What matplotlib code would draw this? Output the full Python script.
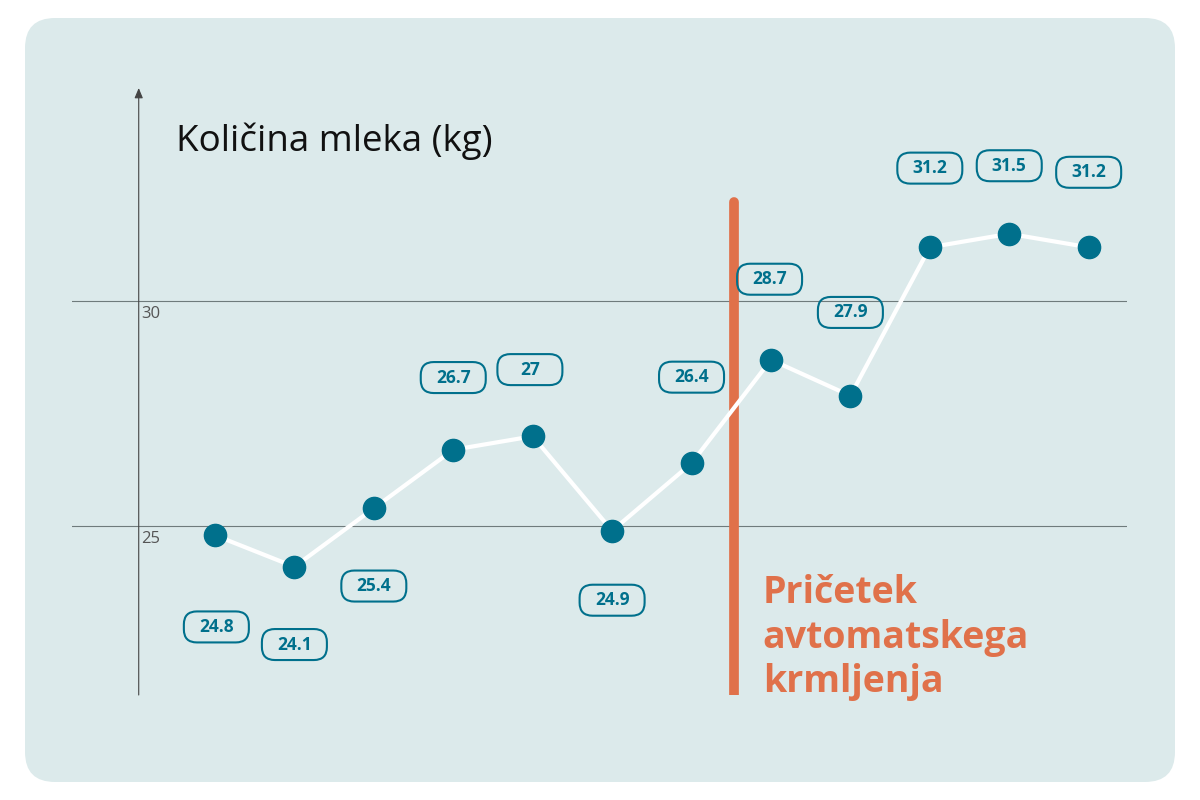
import matplotlib
matplotlib.use('Agg')
import matplotlib.pyplot as plt
from matplotlib.patches import FancyBboxPatch
from matplotlib.transforms import ScaledTranslation

plt.rcParams['font.family'] = ['Open Sans', 'DejaVu Sans']

# Data
values = [24.8, 24.1, 25.4, 26.7, 27.0, 24.9, 26.4, 28.7, 27.9, 31.2, 31.5, 31.2]
labels = ['24.8', '24.1', '25.4', '26.7', '27', '24.9', '26.4', '28.7', '27.9', '31.2', '31.5', '31.2']
yticks = [25, 30]
ytick_labels = ['25', '30']
title = 'Količina mleka (kg)'
event_text = 'Pričetek\navtomatskega\nkrmljenja'
event_pos = 6.53

# label offsets in points (dx, dy) - layout only
label_offsets = [(1, -66), (0, -56), (0, -56), (0, 52), (-2, 48), (0, -50),
                 (0, 62), (-1, 58), (0, 60), (0, 57), (0, 49), (0, 54)]

bg = '#dceaeb'
teal = '#00708c'
orange = '#e0714a'

fig = plt.figure(figsize=(12, 8), dpi=100)
fig.patch.set_facecolor('white')

# rounded panel
panel = FancyBboxPatch((25 / 1200, 18 / 800), 1150 / 1200, 764 / 800,
                       boxstyle='round,pad=0,rounding_size=0.025',
                       transform=fig.transFigure, facecolor=bg, edgecolor='none',
                       mutation_aspect=1.5, zorder=-10)
fig.patches.append(panel)

ax = fig.add_axes([0.06, 0.13125, 0.879, 0.75875])
ax.set_facecolor('none')
ax.set_xlim(-1.80, 11.48)
ax.set_ylim(21.25, 34.74)
for s in ax.spines.values():
    s.set_visible(False)
ax.set_xticks([])
ax.set_yticks([])

x = list(range(len(values)))
axis_x = -0.96

# gridlines and tick labels
for t, tl in zip(yticks, ytick_labels):
    ax.axhline(t, color='#6f7b7c', lw=0.8, zorder=1)
    ax.annotate(tl, (axis_x, t), xytext=(2, -9), textcoords='offset points',
                fontsize=12, color='#555555', ha='left', va='center')

# y axis with arrow
ax.annotate('', xy=(axis_x, 34.74), xytext=(axis_x, 21.25),
            arrowprops=dict(arrowstyle='-|>,head_length=0.6,head_width=0.25',
                            color='#444444', lw=0.8, shrinkA=0, shrinkB=0))

# title
ax.annotate(title, (axis_x, 34.74), xytext=(27, -38), textcoords='offset points',
            fontsize=26.5, color='#111111', ha='left', va='center')

# event line
ax.plot([event_pos, event_pos], [21.25, 32.2], color=orange, lw=7,
        solid_capstyle='round', zorder=3)
ax.annotate(event_text, (event_pos, 21.25), xytext=(21, 87), textcoords='offset points',
            fontsize=27, fontweight='bold', color=orange, ha='left', va='top',
            linespacing=1.22)

# line and markers
ax.plot(x, values, color='white', lw=3, zorder=4)
ax.plot(x, values, 'o', color=teal, ms=16, zorder=5)

# value labels in fixed-size rounded boxes
box_w, box_h = 0.65, 0.31  # inches
for xi, v, lab, (dx, dy) in zip(x, values, labels, label_offsets):
    cx, cy = dx / 72, dy / 72
    box = FancyBboxPatch((cx - box_w / 2, cy - box_h / 2), box_w, box_h,
                         boxstyle='round,pad=0,rounding_size=0.13',
                         transform=fig.dpi_scale_trans + ScaledTranslation(xi, v, ax.transData),
                         facecolor='none', edgecolor=teal, lw=1.5, zorder=6)
    ax.add_patch(box)
    ax.annotate(lab, (xi, v), xytext=(dx, dy), textcoords='offset points',
                fontsize=12.5, fontweight='bold', color=teal, ha='center', va='center',
                zorder=7)

fig.savefig('out.png', dpi=100)
plt.close()
